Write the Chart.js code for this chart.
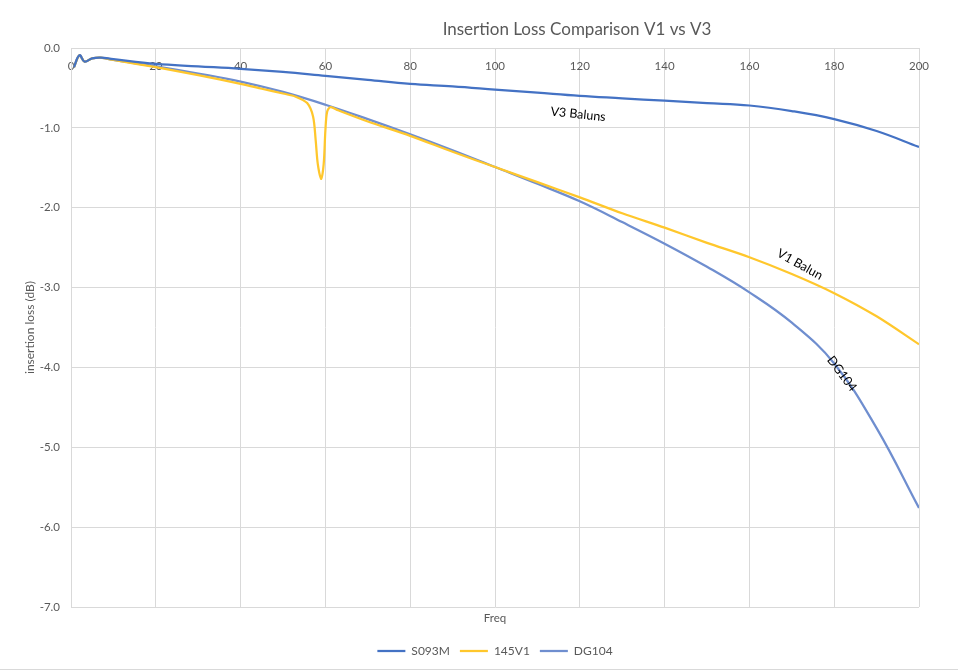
<!DOCTYPE html>
<html>
<head>
<meta charset="utf-8">
<script src="https://cdn.jsdelivr.net/npm/chart.js@4"></script>
<style>
  html, body { margin: 0; padding: 0; background: #ffffff; }
  #wrap { width: 958px; height: 672px; position: relative; }
  canvas { display: block; }
</style>
</head>
<body>
<div id="wrap"><canvas id="c" width="958" height="672"></canvas></div>
<script>
// ---- data ----
const seriesNames = ['S093M', '145V1', 'DG104'];

const freqS093M = [0.7, 2, 3.2, 5, 7, 10, 20, 30, 40, 50, 60, 70, 80, 90, 100, 110, 120, 130, 140, 150, 160, 170, 180, 190, 200];
const lossS093M = [-0.24, -0.09, -0.17, -0.13, -0.12, -0.14, -0.20, -0.23, -0.26, -0.30, -0.35, -0.40, -0.45, -0.48, -0.52, -0.56, -0.60, -0.63, -0.66, -0.69, -0.72, -0.79, -0.89, -1.04, -1.24];

const freq145V1 = [0.7, 2, 3.2, 5, 7, 10, 20, 30, 40, 45, 50, 53, 55.7, 57.1, 57.7, 58.2, 59, 59.6, 60, 60.4, 61.2, 63, 70, 80, 90, 100, 110, 120, 130, 140, 150, 160, 170, 180, 190, 200];
const loss145V1 = [-0.24, -0.09, -0.17, -0.13, -0.12, -0.15, -0.24, -0.34, -0.45, -0.51, -0.57, -0.61, -0.69, -0.86, -1.15, -1.45, -1.64, -1.45, -1.03, -0.80, -0.74, -0.78, -0.92, -1.10, -1.30, -1.49, -1.68, -1.87, -2.07, -2.25, -2.44, -2.62, -2.83, -3.07, -3.36, -3.71];

const freqDG104 = [0.7, 2, 3.2, 5, 7, 10, 20, 30, 40, 50, 60, 70, 80, 90, 100, 110, 120, 130, 140, 150, 160, 170, 180, 190, 200];
const lossDG104 = [-0.24, -0.09, -0.17, -0.13, -0.12, -0.15, -0.23, -0.32, -0.42, -0.55, -0.71, -0.89, -1.08, -1.28, -1.49, -1.70, -1.92, -2.18, -2.45, -2.74, -3.06, -3.44, -3.95, -4.76, -5.76];

const xMin = 0, xMax = 200, xStep = 20;
const yMin = -7, yMax = 0, yStep = 1;

const chartTitle = 'Insertion Loss Comparison V1 vs V3';
const xTitle = 'Freq';
const yTitle = 'insertion loss (dB)';

const curveLabels = [
  { text: 'V3 Baluns', x: 119.6, y: -0.83, angle: 6 },
  { text: 'V1 Balun',  x: 171.9, y: -2.71, angle: 29 },
  { text: 'DG104',     x: 181.8, y: -4.08, angle: 53 }
];

// ---- styles ----
const colors = ['#4472C4', '#FFC72C', '#6F8ECF'];
const FONT = 'Lato, "Open Sans", "Liberation Sans", sans-serif';
const textColor = '#595959';
const gridColor = '#d9d9d9';

function pts(xs, ys) { return xs.map((x, i) => ({ x: x, y: ys[i] })); }

const extras = {
  id: 'extras',
  afterDraw(chart) {
    const ctx = chart.ctx;
    const xs = chart.scales.x, ys = chart.scales.y;
    ctx.save();
    // title
    ctx.fillStyle = textColor;
    ctx.font = '17px ' + FONT;
    ctx.textAlign = 'center';
    ctx.textBaseline = 'middle';
    ctx.fillText(chartTitle, 577, 30);
    // curve labels
    ctx.fillStyle = '#000000';
    ctx.font = '12.5px ' + FONT;
    curveLabels.forEach(l => {
      ctx.save();
      ctx.translate(xs.getPixelForValue(l.x), ys.getPixelForValue(l.y));
      ctx.rotate(l.angle * Math.PI / 180);
      ctx.fillText(l.text, 0, 0);
      ctx.restore();
    });
    // bottom border line
    ctx.strokeStyle = gridColor;
    ctx.lineWidth = 1;
    ctx.beginPath();
    ctx.moveTo(0, 669.5);
    ctx.lineTo(958, 669.5);
    ctx.stroke();
    ctx.restore();
  }
};

new Chart(document.getElementById('c'), {
  type: 'line',
  data: {
    datasets: [
      { label: seriesNames[0], data: pts(freqS093M, lossS093M), borderColor: colors[0], backgroundColor: colors[0], tension: 0.4 },
      { label: seriesNames[1], data: pts(freq145V1, loss145V1), borderColor: colors[1], backgroundColor: colors[1], tension: 0.3 },
      { label: seriesNames[2], data: pts(freqDG104, lossDG104), borderColor: colors[2], backgroundColor: colors[2], tension: 0.4 }
    ].map(d => Object.assign(d, {
      borderWidth: 2.25,
      pointRadius: 0,
      fill: false
    }))
  },
  options: {
    responsive: false,
    animation: false,
    devicePixelRatio: 1,
    layout: { padding: { top: 48, right: 39, left: 0, bottom: 5 } },
    plugins: {
      title: { display: false },
      tooltip: { enabled: false },
      legend: {
        display: true,
        position: 'bottom',
        fullSize: false,
        labels: {
          usePointStyle: true,
          pointStyle: 'line',
          pointStyleWidth: 28,
          boxHeight: 12,
          color: textColor,
          font: { family: FONT, size: 12 },
          padding: 10
        }
      }
    },
    scales: {
      x: {
        type: 'linear',
        min: xMin, max: xMax,
        position: { y: 0 },
        ticks: { stepSize: xStep, color: textColor, font: { family: FONT, size: 11.5 }, padding: 11, maxRotation: 0 },
        grid: { color: gridColor, lineWidth: 1, drawTicks: false },
        border: { display: true, color: gridColor }
      },
      x2: {
        type: 'linear',
        min: xMin, max: xMax,
        position: 'bottom',
        ticks: { display: false },
        grid: { display: false, drawTicks: false },
        border: { display: false },
        title: { display: true, text: xTitle, color: textColor, font: { family: FONT, size: 11.5 }, padding: { top: 0, bottom: 10 } },
        afterFit(s) { s.height = 28; }
      },
      y: {
        type: 'linear',
        min: yMin, max: yMax,
        ticks: { stepSize: yStep, color: textColor, font: { family: FONT, size: 11.5 }, padding: 11,
          callback: v => Number(v).toFixed(1) },
        grid: { color: gridColor, lineWidth: 1, drawTicks: false },
        border: { display: true, color: gridColor },
        title: { display: true, text: yTitle, color: textColor, font: { family: FONT, size: 12 }, padding: { top: 23, bottom: 0 } },
        afterFit(s) { s.width = 71; }
      }
    }
  },
  plugins: [extras]
});
</script>
</body>
</html>
